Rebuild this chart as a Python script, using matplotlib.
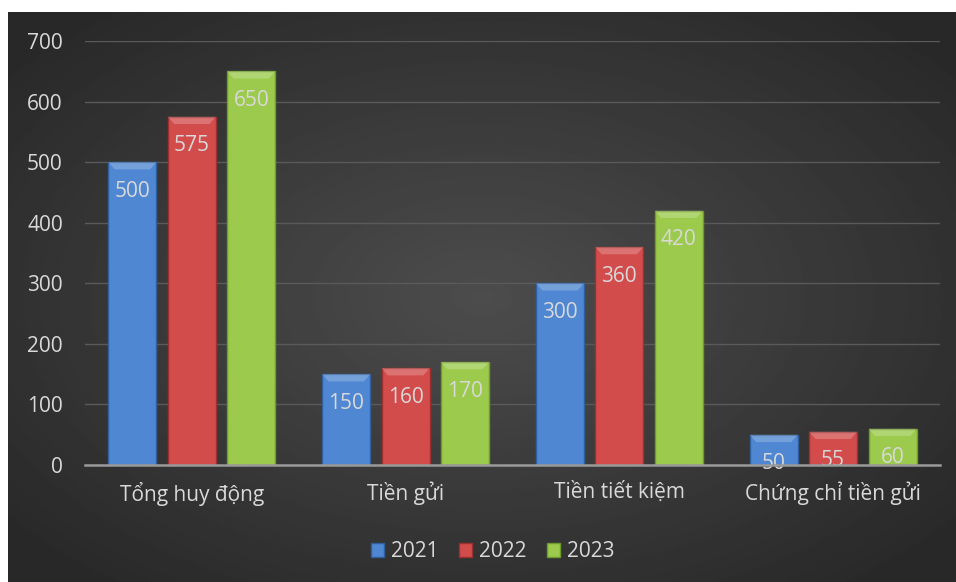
import numpy as np
import matplotlib.pyplot as plt
from matplotlib.patches import Polygon

categories = ['Tổng huy động', 'Tiền gửi', 'Tiền tiết kiệm', 'Chứng chỉ tiền gửi']
years = ['2021', '2022', '2023']
v2021 = [500, 150, 300, 50]
v2022 = [575, 160, 360, 55]
v2023 = [650, 170, 420, 60]
colors = ['#4f87d2', '#d34c4c', '#9bca4c']
edges = ['#2f5f9e', '#9e2f2f', '#6f9a2c']

plt.rcParams['font.family'] = ['Open Sans', 'DejaVu Sans']
text_col = '#d9d9d9'

fig = plt.figure(figsize=(9.56, 5.82), dpi=100, facecolor='white')

# dark radial background
bg = fig.add_axes([8 / 956, 0, 948 / 956, 570 / 582])
yy, xx = np.mgrid[-1:1:300j, -1:1:500j]
r = np.sqrt(xx ** 2 + yy ** 2)
shade = 0.30 - 0.14 * np.clip(r / 1.3, 0, 1)
bg.imshow(shade, cmap='gray', vmin=0, vmax=1, aspect='auto', extent=[0, 1, 0, 1])
bg.set_axis_off()

ax = fig.add_axes([85 / 956, 1 - 465 / 582, 855 / 956, (465 - 41) / 582])
ax.patch.set_alpha(0)

x = np.arange(len(categories))
w = 0.225
off = 0.278
series = [v2021, v2022, v2023]

for i, (vals, c, ec, yr) in enumerate(zip(series, colors, edges, years)):
    bars = ax.bar(x + (i - 1) * off, vals, width=w, color=c, edgecolor=ec,
                  linewidth=1.0, label=yr, zorder=3)
    for b, v in zip(bars, vals):
        x0, x1 = b.get_x(), b.get_x() + b.get_width()
        # top bevel
        h = 12
        poly = Polygon([[x0, v], [x1, v], [x1 - 0.03, v - h], [x0 + 0.03, v - h]],
                       closed=True, facecolor='white', alpha=0.22, edgecolor='none', zorder=5)
        ax.add_patch(poly)
        ax.annotate(str(v), (b.get_x() + b.get_width() / 2, v), xytext=(0, -21),
                    textcoords='offset points', ha='center', va='center',
                    color=text_col, fontsize=15, zorder=6)

ax.set_xlim(-0.5, len(categories) - 0.5)
ax.set_ylim(0, 700)
ax.set_yticks(range(0, 701, 100))
ax.set_xticks(x)
ax.set_xticklabels(categories)
ax.grid(axis='y', color='#5a5a5a', linewidth=1, zorder=0)
ax.set_axisbelow(True)
for s in ['top', 'right', 'left']:
    ax.spines[s].set_visible(False)
ax.spines['bottom'].set_color('#9a9a9a')
ax.spines['bottom'].set_linewidth(1.8)
ax.spines['bottom'].set_zorder(7)
ax.tick_params(axis='both', length=0, colors=text_col, labelsize=15)
ax.tick_params(axis='y', pad=16)
ax.tick_params(axis='x', pad=12)

leg = ax.legend(loc='center', bbox_to_anchor=(0.477, -0.205), ncol=3, frameon=False,
                fontsize=15, handlelength=0.6, handleheight=0.6, handletextpad=0.35,
                columnspacing=1.0, labelcolor=text_col)

plt.savefig('out.png', dpi=100, facecolor=fig.get_facecolor())
